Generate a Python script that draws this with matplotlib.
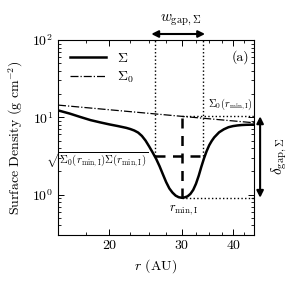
import matplotlib
matplotlib.use("Agg")
import matplotlib.pyplot as plt
import numpy as np
from matplotlib.ticker import FixedLocator, NullFormatter, LogLocator

plt.rcParams['font.family'] = 'serif'
plt.rcParams['font.serif'] = ['cmr10']
plt.rcParams['mathtext.fontset'] = 'cm'
plt.rcParams['axes.formatter.use_mathtext'] = True

## values ##
r_sigma = [15, 16, 17, 18, 19, 20, 21, 22, 22.5, 23, 23.5, 24, 24.5, 25, 25.5,
           26, 26.5, 27, 27.5, 28, 28.5, 29, 29.5, 30, 30.5, 31, 31.5, 32, 32.5,
           33, 33.5, 34, 34.5, 35, 35.5, 36, 37, 38, 39, 40, 41, 42, 43, 45]
sigma = [12.3, 11.2, 10.1, 9.2, 8.6, 8.1, 7.7, 7.3, 7.05, 6.75, 6.35, 5.75,
         5.0, 4.2, 3.5, 2.9, 2.33, 1.83, 1.45, 1.2, 1.06, 0.97, 0.925, 0.91,
         0.92, 0.95, 1.02, 1.15, 1.38, 1.75, 2.3, 2.95, 3.65, 4.35, 4.95, 5.5,
         6.4, 7.0, 7.45, 7.7, 7.85, 7.95, 8.0, 8.05]
r_sigma0 = [15.0, 30.0, 45.0]
sigma0 = [14.4, 10.3, 8.5]

r_min = 30.0
sig_min = 0.91
sig0_min = 10.3
sig_mid = 3.15
r_in, r_out = 25.9, 33.8

fig = plt.figure(figsize=(2.93, 2.84), dpi=100)
ax = fig.add_axes([0.198, 0.1725, 0.669, 0.6865])

ax.plot(r_sigma, sigma, color='k', lw=1.8, label=r'$\Sigma$')
ax.plot(r_sigma0, sigma0, color='k', lw=0.9, ls='-.', label=r'$\Sigma_0$')

# gap width / depth guides
ax.plot([r_in, r_in], [sig_mid, 100], 'k:', lw=1)
ax.plot([r_out, r_out], [sig_mid, 100], 'k:', lw=1)
ax.plot([r_min, 45], [sig0_min, sig0_min], 'k:', lw=1)
ax.plot([r_min, 45], [sig_min, sig_min], 'k:', lw=1)
ax.plot([r_min, r_min], [sig_min, sig0_min], 'k', lw=1.8, ls=(0, (4, 3)))
ax.plot([r_in, r_out], [sig_mid, sig_mid], 'k', lw=1.8, ls=(0, (4, 3)))

ax.set_xscale('log')
ax.set_yscale('log')
ax.set_xlim(15, 45)
ax.set_ylim(0.3, 100)

ax.xaxis.set_major_locator(FixedLocator([20, 30, 40]))
ax.set_xticklabels(['20', '30', '40'])
ax.xaxis.set_minor_locator(FixedLocator([17.5, 22.5, 25, 27.5, 32.5, 35, 37.5, 42.5]))
ax.xaxis.set_minor_formatter(NullFormatter())
ax.yaxis.set_major_locator(LogLocator(base=10))
ax.yaxis.set_minor_locator(LogLocator(base=10, subs=np.arange(2, 10)))
ax.yaxis.set_minor_formatter(NullFormatter())
ax.tick_params(which='both', direction='in', top=True, right=True, labelsize=10)
ax.tick_params(which='major', length=4, width=0.7)
ax.tick_params(which='minor', length=2, width=0.6)
for s in ax.spines.values():
    s.set_linewidth(0.8)

ax.set_xlabel(r'$r$ (AU)', fontsize=10)
ax.set_ylabel(r'Surface Density (g cm$^{-2}$)', fontsize=10, labelpad=5)

ax.legend(loc='upper left', frameon=False, fontsize=10, handlelength=2.6,
          bbox_to_anchor=(0.02, 0.98), borderaxespad=0.2, labelspacing=0.3)

ax.text(0.929, 0.913, '(a)', transform=ax.transAxes, ha='center', va='center', fontsize=10)
ax.text(39.5, 14.6, r'$\Sigma_0(r_{\rm min,I})$', ha='center', va='center', fontsize=7.5)
ax.text(18.7, 2.83, r'$\sqrt{\Sigma_0(r_{\rm min,I})\Sigma(r_{\rm min,I})}$',
        ha='center', va='center', fontsize=7.8, clip_on=False)
ax.text(30.3, 0.63, r'$r_{\rm min,I}$', ha='center', va='center', fontsize=9)

# arrows outside the axes
ax.annotate('', xy=(r_out + 0.4, 1.031), xytext=(r_in - 0.6, 1.031),
            xycoords=('data', 'axes fraction'), textcoords=('data', 'axes fraction'),
            arrowprops=dict(arrowstyle='<|-|>', color='k', lw=1.5, mutation_scale=10,
                            shrinkA=0, shrinkB=0), annotation_clip=False)
ax.text(0.628, 1.103, r'$w_{\rm gap,\Sigma}$', transform=ax.transAxes,
        ha='center', va='center', fontsize=11)
ax.annotate('', xy=(1.031, sig_min), xytext=(1.031, sig0_min),
            xycoords=('axes fraction', 'data'), textcoords=('axes fraction', 'data'),
            arrowprops=dict(arrowstyle='<|-|>', color='k', lw=1.5, mutation_scale=10,
                            shrinkA=0, shrinkB=0), annotation_clip=False)
ax.text(1.128, 0.405, r'$\delta_{\rm gap,\Sigma}$', transform=ax.transAxes,
        ha='center', va='center', fontsize=11, rotation=90)

fig.savefig('out.png', dpi=100)
